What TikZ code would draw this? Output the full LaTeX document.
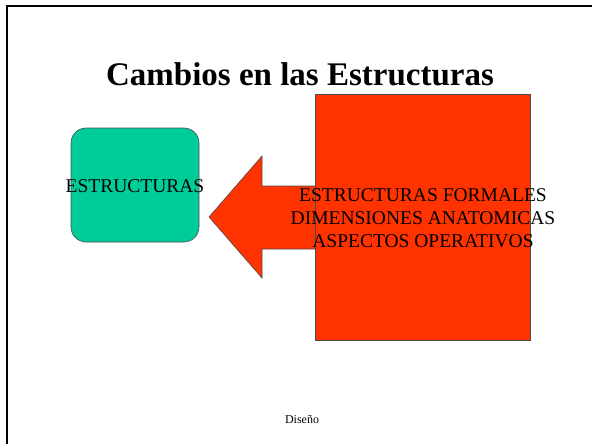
\documentclass[tikz,border=0pt]{standalone}
\usepackage{fontspec}
\setmainfont{Liberation Serif}
\definecolor{slidered}{RGB}{255,51,0}
\definecolor{slidegreen}{RGB}{0,204,153}
\tikzset{
  shapeedge/.style={draw=black!70, line width=0.6pt},
  bodytext/.style={font=\fontsize{19.5}{23}\selectfont, align=center, inner sep=0pt},
}
\begin{document}
\begin{tikzpicture}[x=1pt, y=-1pt]
\useasboundingbox (0,0) rectangle (592,444);
% slide frame (top and left edges visible)
\draw[line width=2pt] (7,592) -- (7,6.5) -- (600,6.5);
% title
\node[font=\bfseries\fontsize{33}{38}\selectfont, anchor=base, inner sep=0pt] (title) at (300,85) {Cambios en las Estructuras};
% arrow (behind the rectangle)
\coordinate (tip) at (209,217);
\draw[shapeedge, fill=slidered] (tip) -- (262,156) -- (262,186) -- (330,186) -- (330,249) -- (262,249) -- (262,278) -- cycle;
% red rectangle
\draw[shapeedge, fill=slidered] (315,94) rectangle (530,340);
\node (rect) at (422.5,217) {};
% green rounded box
\draw[shapeedge, fill=slidegreen, rounded corners=15pt] (71,128) rectangle (199,242);
\node[bodytext, anchor=base] (struct) at (135,192) {ESTRUCTURAS};
% text on the red rectangle
\node[bodytext, anchor=base] (l1) at (423,201) {ESTRUCTURAS FORMALES};
\node[bodytext, anchor=base] (l2) at (423,224) {DIMENSIONES ANATOMICAS};
\node[bodytext, anchor=base] (l3) at (423,247) {ASPECTOS OPERATIVOS};
% footer
\node[font=\fontsize{12}{14}\selectfont, anchor=base] (foot) at (302,423) {Diseño};
\end{tikzpicture}
\end{document}
